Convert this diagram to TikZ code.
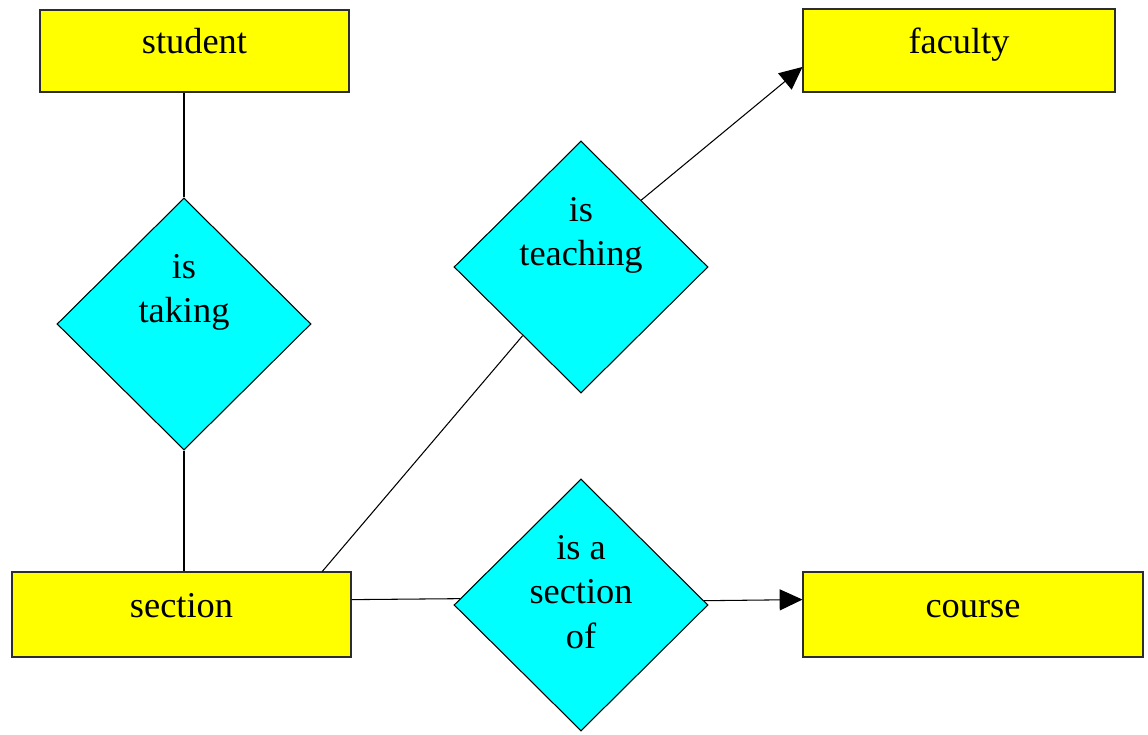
\documentclass[tikz,border=0pt]{standalone}
\usepackage{fontspec}
\setmainfont{Liberation Serif}
\usetikzlibrary{shapes.geometric, arrows.meta}

\definecolor{entyellow}{RGB}{255,255,0}
\definecolor{relcyan}{RGB}{0,255,255}
\definecolor{boxline}{RGB}{45,45,45}

\begin{document}
\begin{tikzpicture}[x=0.02cm, y=-0.02cm,
        entity/.style 2 args={rectangle, draw=boxline, fill=entyellow, line width=0.6pt, inner sep=0pt,
            minimum width=#1*0.02cm, minimum height=#2*0.02cm, text height=3pt, text depth=0pt,
            font=\fontsize{20.7}{25}\selectfont},
        rel/.style={diamond, draw=black, fill=relcyan, line width=0.6pt, inner sep=0pt,
            minimum width=254*0.02cm, minimum height=252*0.02cm},
        rellabel/.style={align=center, inner sep=0pt, font=\fontsize{20.7}{25.3}\selectfont},
        conn/.style={line width=0.6pt},
        arr/.style={line width=0.6pt, -{Triangle[length=13pt, width=12pt]}}]
    \useasboundingbox (0, 0) rectangle (1148, 734);

    \node[entity={309}{82}] (student) at (194.5, 51) {student};
    \node[entity={312}{83}] (faculty) at (959, 50.5) {faculty};
    \node[entity={339}{85}] (section) at (181.5, 614.5) {section};
    \node[entity={340}{85}] (course) at (973, 614.5) {course};

    \node[rel] (taking) at (184, 324) {};
    \node[rel] (teaching) at (581, 267) {};
    \node[rel] (secof) at (581, 605) {};

    \node[rellabel] (takinglbl) at (184, 292.5) {is\\taking};
    \node[rellabel] (teachinglbl) at (581, 235.5) {is\\teaching};
    \node[rellabel] (secoflbl) at (581, 592) {is a\\section\\of};

    \draw[conn] (taking.north) -- (taking.north |- student.south);
    \draw[conn] (taking.south) -- (taking.south |- section.north);
    \draw[conn] (section.17) -- (teaching);
    \draw[arr] (teaching.48) -- (faculty.186);
    \draw[conn] (section.5) -- (secof.177);
    \draw[arr] (secof.2) -- (course.175);
\end{tikzpicture}
\end{document}
